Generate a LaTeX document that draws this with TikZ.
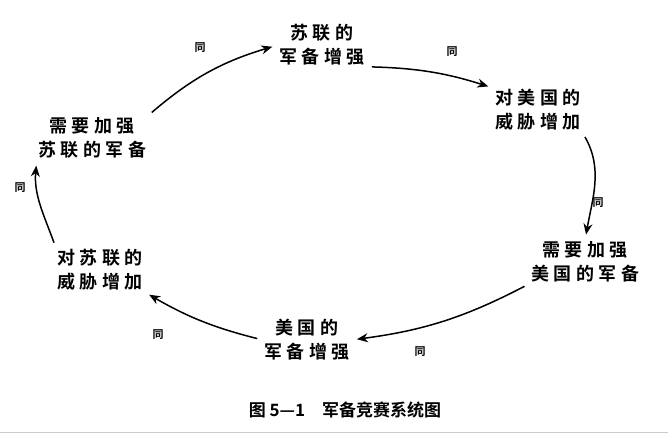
\documentclass[tikz,border=0pt]{standalone}
\usepackage{fontspec}
\newfontfamily\cjk{Noto Sans CJK SC}[BoldFont={* Bold}]
\newfontfamily\cjksp{Noto Sans CJK SC}[BoldFont={* Bold},LetterSpace=25]
\usetikzlibrary{arrows.meta}
\begin{document}
\begin{tikzpicture}[x=1pt,y=-1pt,
  box/.style={font=\cjksp\bfseries\fontsize{18}{24}\selectfont,align=center,inner sep=1pt},
  tag/.style={font=\cjk\bfseries\fontsize{11}{11}\selectfont,inner sep=0pt},
  arr/.style={-{Stealth[length=11pt,width=9pt]},line width=1.5pt,shorten <=6pt,shorten >=6pt}]
\useasboundingbox[fill=white] (0,0) rectangle (668,440);
\node[box] (a) at (322,45) {苏联的\\军备增强};
\node[box] (b) at (538,110) {对美国的\\威胁增加};
\node[box] (c) at (585,262) {需要加强\\美国的军备};
\node[box] (d) at (307,340) {美国的\\军备增强};
\node[box] (e) at (100,270) {对苏联的\\威胁增加};
\node[box] (f) at (92,138) {需要加强\\苏联的军备};
\node[tag] (t1) at (200,48) {同};
\node[tag] (t2) at (452,52) {同};
\node[tag] (t3) at (598,203) {同};
\node[tag] (t4) at (420,352) {同};
\node[tag] (t5) at (158,335) {同};
\node[tag] (t6) at (20,188) {同};
\node[font=\cjk\bfseries\fontsize{17}{17}\selectfont] (cap) at (345,410) {图 5—1\quad 军备竞赛系统图};
\draw[gray!40,line width=1pt] (0,432) -- (668,432);
\draw[arr] (a.south east) to[bend left=8] (b.north west);
\draw[arr] (b.south east) to[out=-60,in=80] (c.north);
\draw[arr] (c.south west) to[bend left=10] (d.east);
\draw[arr] (d.west) to[bend left=8] (e.south east);
\draw[arr] (e.north west) to[out=110,in=-95] (f.south west);
\draw[arr] (f.north east) to[bend left=12] (a.west);
\end{tikzpicture}
\end{document}
